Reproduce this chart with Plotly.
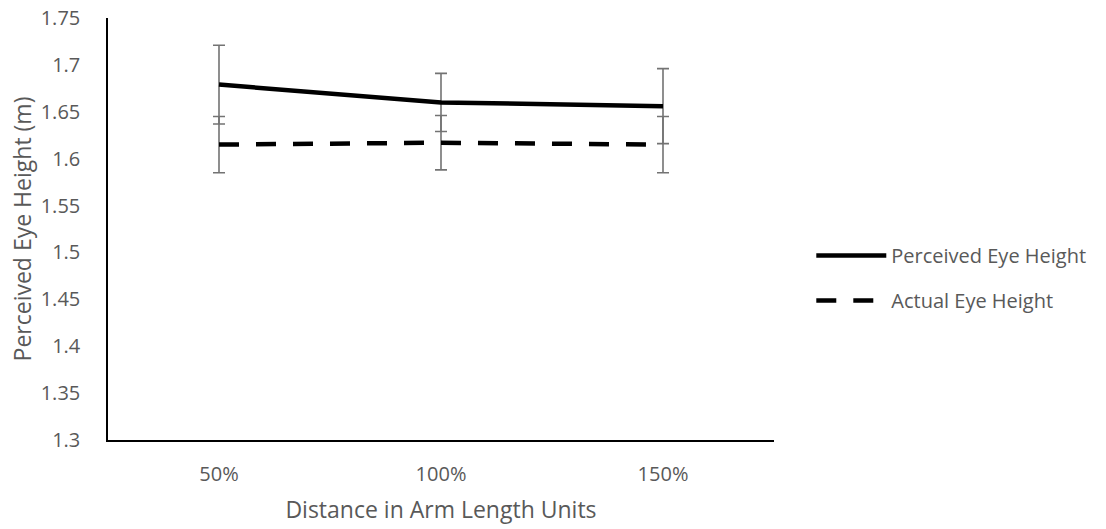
import plotly.graph_objects as go

categories = ["50%", "100%", "150%"]
perceived = [1.679, 1.660, 1.656]
perceived_err = [0.042, 0.031, 0.040]
actual = [1.615, 1.617, 1.615]
actual_err = [0.030, 0.029, 0.030]

FONT = "Open Sans"
GRAY = "#595959"
ERR = "#737373"

fig = go.Figure()
fig.add_trace(go.Scatter(
    x=categories, y=perceived, mode="lines", name="Perceived Eye Height",
    legendgroup="p",
    line=dict(color="black", width=4.5),
    error_y=dict(type="data", array=perceived_err, visible=True,
                 color=ERR, thickness=1.6, width=6),
))
fig.add_trace(go.Scatter(
    x=categories, y=actual, mode="lines", name="Actual Eye Height",
    legendgroup="a",
    line=dict(color="black", width=4.5, dash="20px,17px"),
    error_y=dict(type="data", array=actual_err, visible=True,
                 color=ERR, thickness=1.6, width=6),
))

fig.update_layout(
    width=1106, height=529,
    margin=dict(l=108, r=332, t=18, b=89),
    paper_bgcolor="white", plot_bgcolor="white",
    font=dict(family=FONT, size=20, color=GRAY),
    showlegend=True,
    legend=dict(x=1.056, y=0.384, xanchor="left", yanchor="middle",
                font=dict(family=FONT, size=20, color=GRAY),
                itemwidth=70, tracegroupgap=16, bgcolor="rgba(0,0,0,0)"),
    xaxis=dict(
        type="category", range=[-0.5, 2.5], automargin=False,
        showline=True, linecolor="black", linewidth=1.5,
        showgrid=False, zeroline=False, ticks="",
        ticklabelstandoff=15,
        tickfont=dict(family=FONT, size=20, color=GRAY),
        title=dict(text="Distance in Arm Length Units",
                   font=dict(family=FONT, size=23, color=GRAY), standoff=16),
    ),
    yaxis=dict(
        range=[1.3, 1.75], dtick=0.05, tick0=1.3, automargin=False,
        showline=True, linecolor="black", linewidth=1.5,
        showgrid=False, zeroline=False, ticks="",
        ticklabelstandoff=22, ticklabeloverflow="allow",
        tickformat="~g",
        tickfont=dict(family=FONT, size=20, color=GRAY),
        title=dict(text="Perceived Eye Height (m)",
                   font=dict(family=FONT, size=23, color=GRAY), standoff=3),
    ),
)

# remove the default 8px page margin so the figure sits at the window's corner
fig.write_html("out.html", config={"displayModeBar": False},
               post_script="document.body.style.margin='0';")
